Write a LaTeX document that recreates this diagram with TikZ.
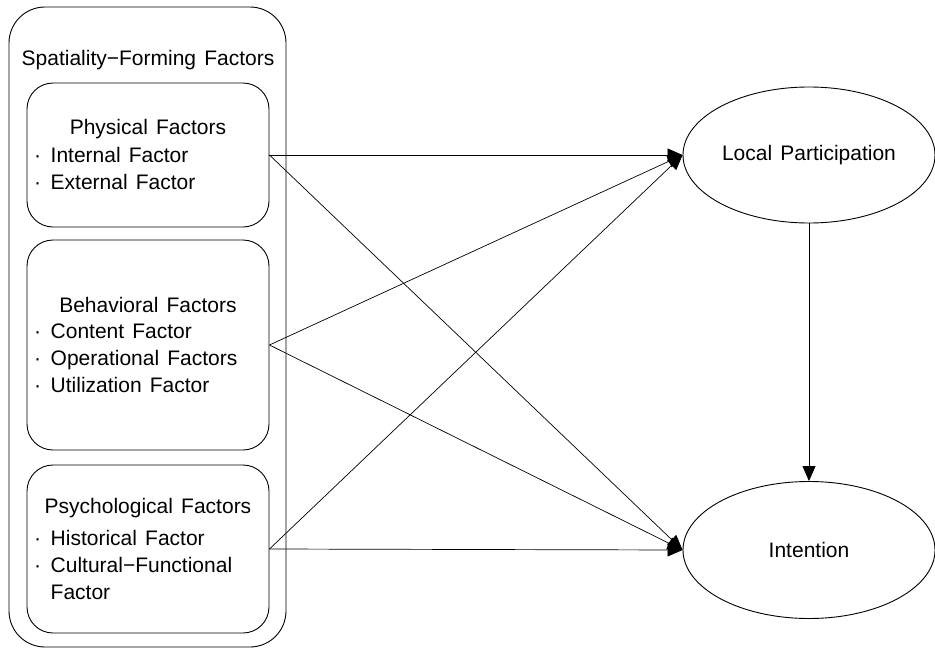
\documentclass[tikz,border=0pt]{standalone}
\usepackage{fontspec}
\setmainfont{Liberation Sans}[WordSpace=1.4]
\usetikzlibrary{arrows.meta,shapes.geometric}

\begin{document}
\begin{tikzpicture}[x=1pt,y=1pt]
\tikzstyle{every node}=[inner sep=0pt, font=\fontsize{21}{27}\selectfont]
\tikzstyle{outerbox}=[draw, rounded corners=36pt, line width=0.9pt]
\tikzstyle{factorbox}=[draw, rounded corners=26pt, minimum width=242pt, line width=0.9pt]
\tikzstyle{latent}=[draw, ellipse, minimum width=252pt, minimum height=136pt, line width=0.9pt]
\tikzstyle{effect}=[line width=0.7pt, -{Triangle[length=15pt,width=13pt]}]
\useasboundingbox (0,0) rectangle (935,-648);
\draw (147.5,-327) node (spf) [outerbox, minimum width=277pt, minimum height=640pt] {};
\draw (148,-60) node (spft) {Spatiality−Forming Factors};
\draw (148,-155) node (phys) [factorbox, minimum height=144pt] {};
\draw (148,-129) node (physt) {Physical Factors};
\draw (34,-168.5) node (physl) [anchor=west, align=left] {·\hspace{9.5pt}Internal Factor\\·\hspace{9.5pt}External Factor};
\draw (148,-345) node (behv) [factorbox, minimum height=210pt] {};
\draw (148,-305) node (behvt) {Behavioral Factors};
\draw (34,-358.5) node (behvl) [anchor=west, align=left] {·\hspace{9.5pt}Content Factor\\·\hspace{9.5pt}Operational Factors\\·\hspace{9.5pt}Utilization Factor};
\draw (148,-549) node (psyc) [factorbox, minimum height=168pt] {};
\draw (148,-508) node (psyct) {Psychological Factors};
\draw (34,-564.5) node (psycl) [anchor=west, align=left] {·\hspace{9.5pt}Historical Factor\\·\hspace{9.5pt}Cultural−Functional\\\hphantom{·\hspace{9.5pt}}Factor};
\draw (809,-155) node (lp) [latent] {Local Participation};
\draw (809,-550) node (int) [latent, minimum height=137pt] {Intention};
\draw [effect] (phys.east) -- (lp.west);
\draw [effect] (phys.east) -- (int.west);
\draw [effect] (behv.east) -- (lp.west);
\draw [effect] (behv.east) -- (int.west);
\draw [effect] (psyc.east) -- (lp.west);
\draw [effect] (psyc.east) -- (int.west);
\draw [effect] (lp.south) -- (int.north);
\end{tikzpicture}
\end{document}
